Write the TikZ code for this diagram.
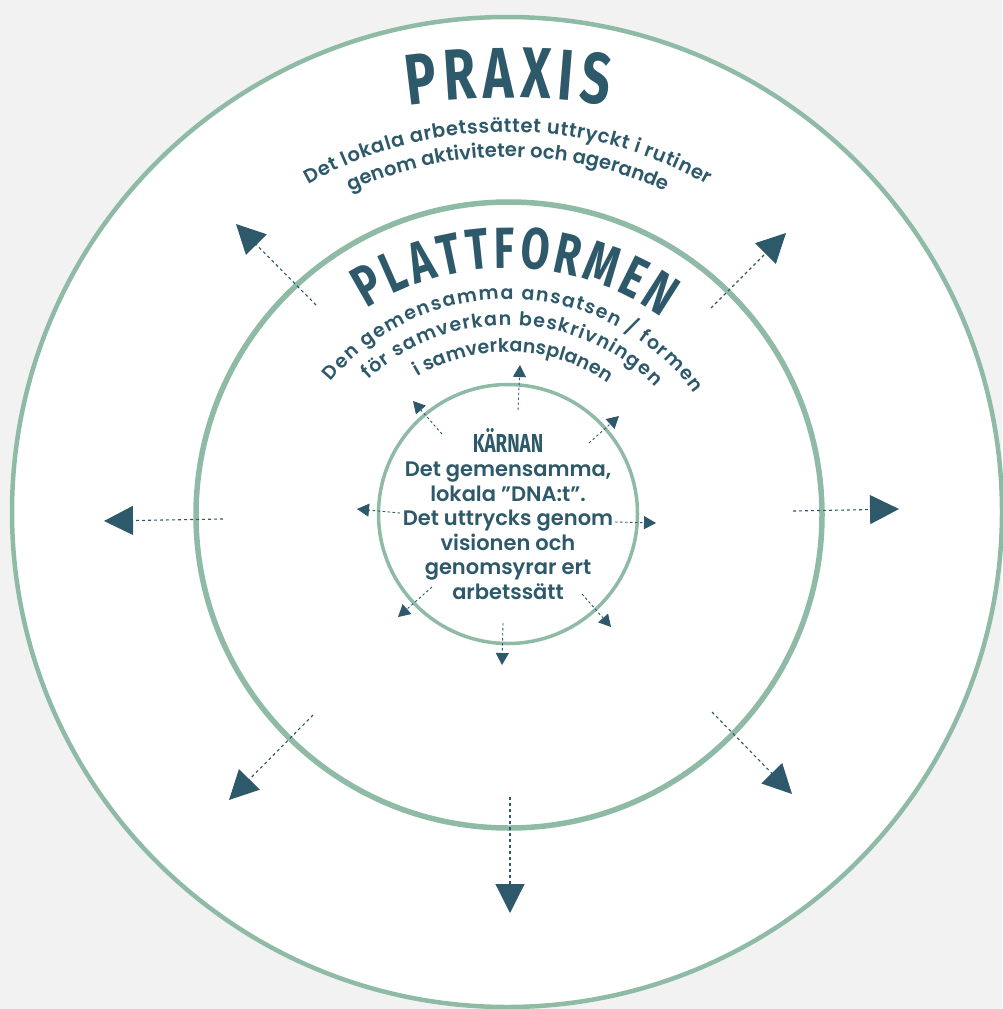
\documentclass[tikz,border=0pt]{standalone}
\usepackage{fontspec}
\setmainfont{Poppins}
\newfontfamily\headfont[FakeStretch=0.72]{Fira Sans}
\newfontfamily\corefont{Poppins SemiBold}
\usetikzlibrary{arrows.meta,decorations.text}
\definecolor{ink}{RGB}{45,89,106}
\definecolor{ring}{RGB}{143,187,166}
\definecolor{paper}{RGB}{242,242,242}

\begin{document}
\begin{tikzpicture}[x=1pt, y=1pt,
    ringline/.style={draw=ring, fill=white},
    bigarrow/.style={color=ink, line width=1.1pt, dash pattern=on 3pt off 3pt, -{Triangle[length=29pt, width=29pt]}},
    smallarrow/.style={color=ink, line width=0.9pt, dash pattern=on 2.5pt off 2.5pt, -{Triangle[length=12pt, width=13pt]}},
    arctext/.style={decorate, decoration={text along path, text align=fit to path, text color=ink, text={#1}}},
]
    \fill[paper] (0,0) rectangle (1002,-1009);
    \useasboundingbox (0,0) rectangle (1002,-1009);

    % the three rings
    \draw[ringline, line width=4.5pt] (507,-512) circle[radius=495];
    \draw[ringline, line width=5.5pt] (509,-515) circle[radius=313];
    \draw[ringline, line width=3.5pt] (508,-514) circle[radius=129.5];

    % curved titles
    \path[arctext={|\headfont\bfseries\fontsize{72}{72}\selectfont|PRAXIS}]
        (508,-798) ++(98.2:700) arc[start angle=98.2, end angle=81.8, radius=700];
    \path[arctext={|\corefont\fontsize{19.5}{19.5}\selectfont|Det lokala arbetssättet uttryckt i rutiner}]
        (508,-537) ++(119.5:405) arc[start angle=119.5, end angle=60.5, radius=405];
    \path[arctext={|\corefont\fontsize{19.5}{19.5}\selectfont|genom aktiviteter och agerande}]
        (508,-537) ++(114.5:380) arc[start angle=114.5, end angle=65.5, radius=380];

    \path[arctext={|\headfont\bfseries\fontsize{58}{58}\selectfont|PLATTFORMEN}]
        (508,-532) ++(122.4:264) arc[start angle=122.4, end angle=54.4, radius=264];
    \path[arctext={|\corefont\fontsize{19}{19}\selectfont|Den gemensamma ansatsen / formen}]
        (508,-530) ++(140:231) arc[start angle=140, end angle=36.2, radius=231];
    \path[arctext={|\corefont\fontsize{19}{19}\selectfont|för samverkan beskrivningen}]
        (508,-530) ++(132.9:205) arc[start angle=132.9, end angle=44.2, radius=205];
    \path[arctext={|\corefont\fontsize{19}{19}\selectfont|i samverkansplanen}]
        (508,-530) ++(120.6:178) arc[start angle=120.6, end angle=55.8, radius=178];

    % core text
    \node[text=ink, align=center, font=\corefont\fontsize{21}{24.5}\selectfont] (core) at (508,-514)
        {{\headfont\bfseries\fontsize{26}{27}\selectfont KÄRNAN}\\Det gemensamma,\\lokala ”DNA:t”.\\Det uttrycks genom\\visionen och\\genomsyrar ert\\arbetssätt};

    % arrows out of the platform
    \foreach \name/\sx/\sy/\tx/\ty in {ul/316/305/236/224, ur/711/308/786/233, l/223/519/104/521,
        r/793/511/899/509, dl/313/715/229/800, dr/712/712/792/794, d/510/797/510/913}{
        \coordinate (\name-s) at (\sx,-\sy);
        \coordinate (\name-t) at (\tx,-\ty);
        \draw[bigarrow] (\name-s) -- (\name-t);
    }

    % arrows out of the core
    \foreach \name/\sx/\sy/\tx/\ty in {cu/518/410/520/365, cul/442/434/413/401, cur/589/443/619/416,
        cl/400/513/357/509, cr/615/522/656/523, cdl/432/587/398/617, cdr/582/594/611/627, cd/503/623/502/665}{
        \coordinate (\name-s) at (\sx,-\sy);
        \coordinate (\name-t) at (\tx,-\ty);
        \draw[smallarrow] (\name-s) -- (\name-t);
    }
\end{tikzpicture}
\end{document}
